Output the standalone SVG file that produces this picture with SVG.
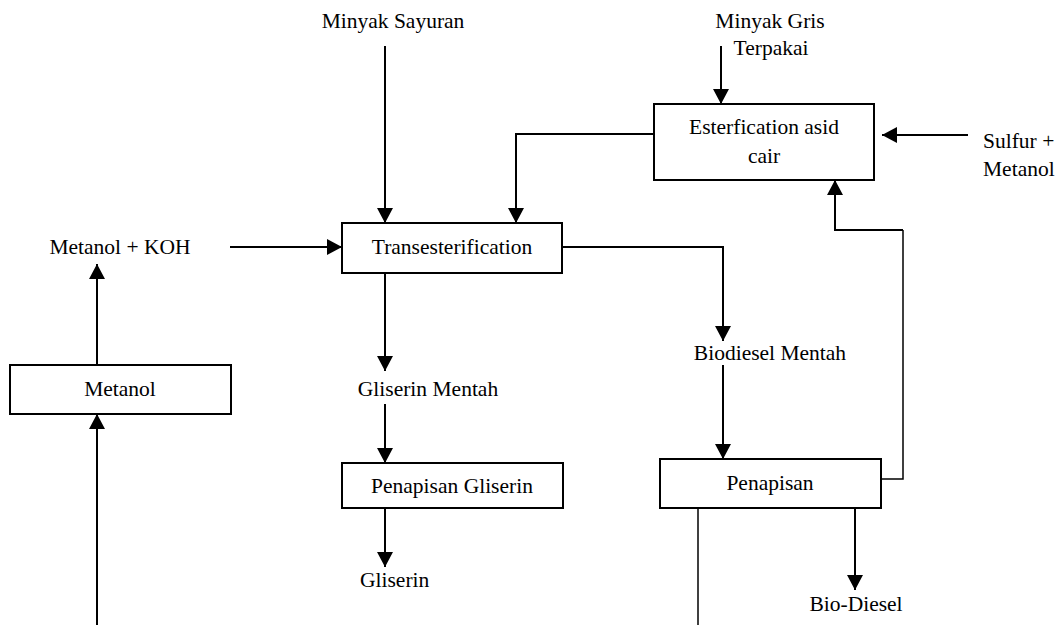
<svg xmlns="http://www.w3.org/2000/svg" width="1059" height="625" viewBox="0 0 1059 625">
<style>
  text { font-family: "Liberation Serif", "Times New Roman", serif; font-size: 21.5px; fill: #000; }
  .c { text-anchor: middle; }
  .box { fill: #fff; stroke: #000; stroke-width: 2; }
  .ln { fill: none; stroke: #000; stroke-width: 2; }
  .thin { fill: none; stroke: #000; stroke-width: 1.5; }
  .arr { marker-end: url(#ah); }
</style>
<defs>
  <marker id="ah" markerUnits="userSpaceOnUse" markerWidth="16" markerHeight="16" refX="15" refY="8" orient="auto">
    <path d="M0,0 L15,8 L0,16 Z" fill="#000"/>
  </marker>
</defs>
<rect width="1059" height="625" fill="#fff"/>

<g id="connectors">
  <line class="ln arr" x1="385" y1="46" x2="385" y2="223"/>
  <path class="ln arr" d="M654,134 H516 V223"/>
  <line class="ln arr" x1="230" y1="247" x2="342" y2="247"/>
  <line class="ln arr" x1="97" y1="365" x2="97" y2="264"/>
  <line class="ln arr" x1="97" y1="625" x2="97" y2="414"/>
  <line class="ln arr" x1="721" y1="46" x2="721" y2="104"/>
  <line class="ln arr" x1="968" y1="135" x2="882" y2="135"/>
  <path class="thin" d="M881,479 H903 V230"/>
  <path class="ln arr" d="M903,230 H835 V180"/>
  <path class="ln arr" d="M562,247 H723 V341"/>
  <line class="ln arr" x1="723" y1="365" x2="723" y2="459"/>
  <line class="ln arr" x1="385" y1="273" x2="385" y2="371"/>
  <line class="ln arr" x1="385" y1="404" x2="385" y2="463"/>
  <line class="ln arr" x1="385" y1="508" x2="385" y2="567"/>
  <line class="ln arr" x1="855" y1="508" x2="855" y2="590"/>
  <line class="thin" x1="698" y1="508" x2="698" y2="625"/>
</g>

<g id="minyak-sayuran"><text class="c" x="393" y="28">Minyak Sayuran</text></g>
<g id="minyak-gris"><text class="c" x="770" y="28">Minyak Gris</text><text class="c" x="771" y="55">Terpakai</text></g>
<g id="esterfication">
  <rect class="box" x="654" y="104" width="220" height="76"/>
  <text class="c" x="764" y="134">Esterfication asid</text>
  <text class="c" x="764" y="163">cair</text>
</g>
<g id="sulfur-metanol"><text x="983" y="148">Sulfur +</text><text x="983" y="176">Metanol</text></g>
<g id="metanol-koh"><text class="c" x="120" y="254">Metanol + KOH</text></g>
<g id="transesterification">
  <rect class="box" x="342" y="223" width="220" height="50"/>
  <text class="c" x="452" y="254">Transesterification</text>
</g>
<g id="metanol">
  <rect class="box" x="10" y="365" width="221" height="49"/>
  <text class="c" x="120" y="396">Metanol</text>
</g>
<g id="gliserin-mentah"><text class="c" x="428" y="396">Gliserin Mentah</text></g>
<g id="biodiesel-mentah"><text class="c" x="770" y="360">Biodiesel Mentah</text></g>
<g id="penapisan-gliserin">
  <rect class="box" x="342" y="463" width="221" height="45"/>
  <text class="c" x="452" y="493">Penapisan Gliserin</text>
</g>
<g id="penapisan">
  <rect class="box" x="660" y="459" width="221" height="49"/>
  <text class="c" x="770" y="490">Penapisan</text>
</g>
<g id="gliserin"><text x="360" y="587">Gliserin</text></g>
<g id="bio-diesel"><text class="c" x="856" y="611">Bio-Diesel</text></g>
</svg>
